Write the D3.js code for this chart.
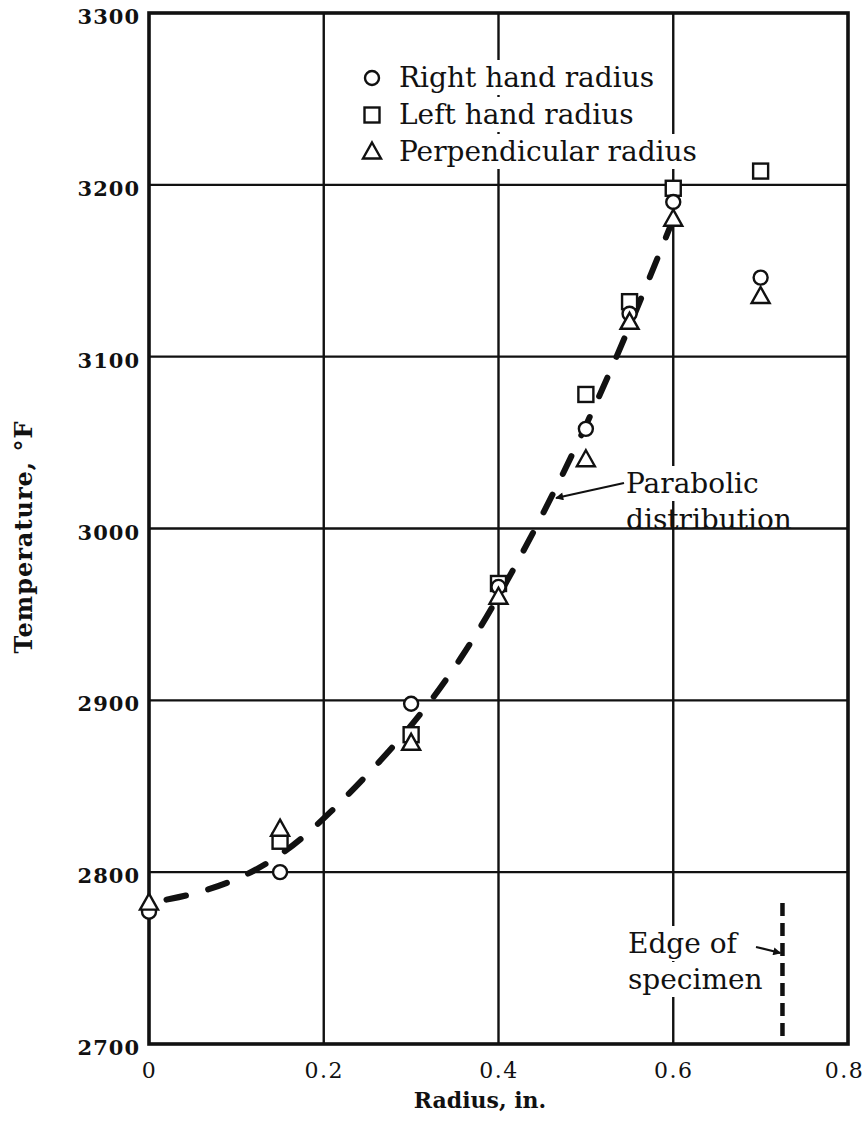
<!DOCTYPE html>
<meta charset="utf-8">
<style>
  html, body { margin: 0; padding: 0; background: #fff; }
  svg { display: block; }
  text { font-family: "DejaVu Serif", serif; fill: #111; }
</style>
<body>
<div id="chart"></div>
<script src="https://cdnjs.cloudflare.com/ajax/libs/d3/7.8.5/d3.min.js"></script>
<script>
// values
var radius = [0, 0.15, 0.3, 0.4, 0.5, 0.55, 0.6, 0.7];
var rightHand = [2777, 2800, 2898, 2966, 3058, 3125, 3190, 3146];
var leftHand  = [null, 2818, 2880, 2968, 3078, 3132, 3198, 3208];
var perpendicular = [2782, 2825, 2875, 2960, 3040, 3120, 3180, 3135];

// dashed "parabolic distribution" curve
var curveR = [0.02, 0.05, 0.1, 0.15, 0.2, 0.3, 0.36, 0.4, 0.45, 0.5, 0.55, 0.6];
var curveT = [2784, 2787, 2795, 2809, 2830, 2883, 2926, 2960, 3007, 3059, 3117, 3180];

var xTicks = [0, 0.2, 0.4, 0.6, 0.8];
var xTickLabels = ["0", "0.2", "0.4", "0.6", "0.8"];
var yTicks = [2700, 2800, 2900, 3000, 3100, 3200, 3300];
var edgeR = 0.725;
var edgeTop = 2782;

var W = 867, H = 1143;
var m = {left: 149, right: 19, top: 13, bottom: 99};

var x = d3.scaleLinear().domain([0, 0.8]).range([m.left, W - m.right]);
var y = d3.scaleLinear().domain([2700, 3300]).range([H - m.bottom, m.top]);

var svg = d3.select("#chart").append("svg")
  .attr("width", W).attr("height", H);

// grid
var grid = svg.append("g").attr("stroke", "#111").attr("stroke-width", 2.4);
grid.selectAll(".vg").data(xTicks.slice(1, -1)).enter().append("line")
  .attr("x1", d => x(d)).attr("x2", d => x(d))
  .attr("y1", y(3300)).attr("y2", y(2700));
grid.selectAll(".hg").data(yTicks.slice(1, -1)).enter().append("line")
  .attr("x1", x(0)).attr("x2", x(0.8))
  .attr("y1", d => y(d)).attr("y2", d => y(d));

// axes (labels only, frame drawn separately)
svg.append("g").attr("transform", "translate(" + m.left + ",0)")
  .call(d3.axisLeft(y).tickValues(yTicks).tickSize(0).tickPadding(9).tickFormat(d3.format("d")))
  .call(g => g.select(".domain").remove())
  .call(g => g.selectAll("text").attr("dy", "0.5em")
    .attr("font-size", 21).attr("font-weight", "bold").attr("letter-spacing", 1));
svg.append("g").attr("transform", "translate(0," + (H - m.bottom) + ")")
  .call(d3.axisBottom(x).tickValues(xTicks).tickSize(0).tickPadding(18)
    .tickFormat((d, i) => xTickLabels[i]))
  .call(g => g.select(".domain").remove())
  .call(g => g.selectAll("text").attr("font-size", 22).attr("letter-spacing", 1.5)
    .attr("dx", d => d === 0.8 ? -4 : 0));
svg.selectAll(".tick text").attr("fill", "#111").attr("font-family", "DejaVu Serif");

// frame
svg.append("rect")
  .attr("x", x(0)).attr("y", y(3300))
  .attr("width", x(0.8) - x(0)).attr("height", y(2700) - y(3300))
  .attr("fill", "none").attr("stroke", "#111").attr("stroke-width", 3.6);

// axis titles
svg.append("text")
  .attr("transform", "translate(32,537) rotate(-90)")
  .attr("text-anchor", "middle").attr("font-size", 24).attr("font-weight", "bold")
  .attr("letter-spacing", 1)
  .text("Temperature, °F");
svg.append("text")
  .attr("x", 480).attr("y", 1108)
  .attr("text-anchor", "middle").attr("font-size", 22).attr("font-weight", "bold")
  .text("Radius, in.");

function marker(sel, shape, cx, cy) {
  if (shape === "circle") {
    sel.append("circle").attr("cx", cx).attr("cy", cy).attr("r", 7);
  } else if (shape === "square") {
    sel.append("rect").attr("x", cx - 7.5).attr("y", cy - 7.5).attr("width", 15).attr("height", 15);
  } else {
    sel.append("path").attr("d", "M" + cx + "," + (cy - 9.5) + "L" + (cx + 9) + "," + (cy + 6.5) + "L" + (cx - 9) + "," + (cy + 6.5) + "Z");
  }
}

// text with a white backing that breaks the grid lines behind it
function label(tx, ty, str, pad) {
  var bg = svg.append("rect").attr("fill", "#fff");
  var t = svg.append("text").attr("x", tx).attr("y", ty).attr("font-size", 28).text(str);
  var b = t.node().getBBox();
  bg.attr("x", b.x - pad).attr("y", b.y - 1).attr("width", b.width + 2 * pad).attr("height", b.height + 2);
  return t;
}

// legend
var legendItems = [
  {shape: "circle", label: "Right hand radius"},
  {shape: "square", label: "Left hand radius"},
  {shape: "triangle", label: "Perpendicular radius"}
];
var lx = 372, ly = 78, lstep = 37;
legendItems.forEach(function(it, i) {
  svg.append("rect").attr("x", lx - 12).attr("y", ly + i * lstep - 12)
    .attr("width", 30).attr("height", 24).attr("fill", "#fff");
  label(lx + 27, ly + i * lstep + 9, it.label, 3);
  var g = svg.append("g").attr("fill", "#fff").attr("stroke", "#111").attr("stroke-width", 2.4);
  marker(g, it.shape, lx, ly + i * lstep);
});

// edge of specimen
label(628, 953, "Edge of", 4);
label(628, 989, "specimen", 4);
svg.append("line")
  .attr("x1", x(edgeR)).attr("x2", x(edgeR))
  .attr("y1", y(edgeTop)).attr("y2", y(2700))
  .attr("stroke", "#111").attr("stroke-width", 4.5)
  .attr("stroke-dasharray", "13,7");

// parabolic curve
var curvePts = curveR.map((r, i) => [r, curveT[i]]);
svg.append("path")
  .datum(curvePts)
  .attr("d", d3.line().x(d => x(d[0])).y(d => y(d[1])).curve(d3.curveBasis))
  .attr("fill", "none").attr("stroke", "#111").attr("stroke-width", 6)
  .attr("stroke-linecap", "round").attr("stroke-dasharray", "20,23");

// parabolic label + arrow
label(626, 493, "Parabolic", 3);
svg.append("text").attr("x", 626).attr("y", 529).attr("font-size", 28).text("distribution");

var defs = svg.append("defs");
defs.append("marker").attr("id", "ah").attr("viewBox", "0 0 10 10")
  .attr("refX", 9).attr("refY", 5).attr("markerWidth", 12).attr("markerHeight", 8)
  .attr("markerUnits", "userSpaceOnUse").attr("orient", "auto")
  .append("path").attr("d", "M0,0L10,5L0,10Z").attr("fill", "#111");
svg.append("line").attr("x1", 624).attr("y1", 483).attr("x2", 556).attr("y2", 498)
  .attr("stroke", "#111").attr("stroke-width", 2.2).attr("marker-end", "url(#ah)");
svg.append("line").attr("x1", 756).attr("y1", 947).attr("x2", x(edgeR) - 2).attr("y2", 953)
  .attr("stroke", "#111").attr("stroke-width", 2.2).attr("marker-end", "url(#ah)");

// data markers
function drawSeries(vals, shape) {
  var g = svg.append("g").attr("fill", "#fff").attr("stroke", "#111").attr("stroke-width", 2.4);
  vals.forEach(function(v, i) {
    if (v == null) return;
    marker(g, shape, x(radius[i]), y(v));
  });
}
drawSeries(leftHand, "square");
drawSeries(rightHand, "circle");
drawSeries(perpendicular, "triangle");
</script>
</body>
